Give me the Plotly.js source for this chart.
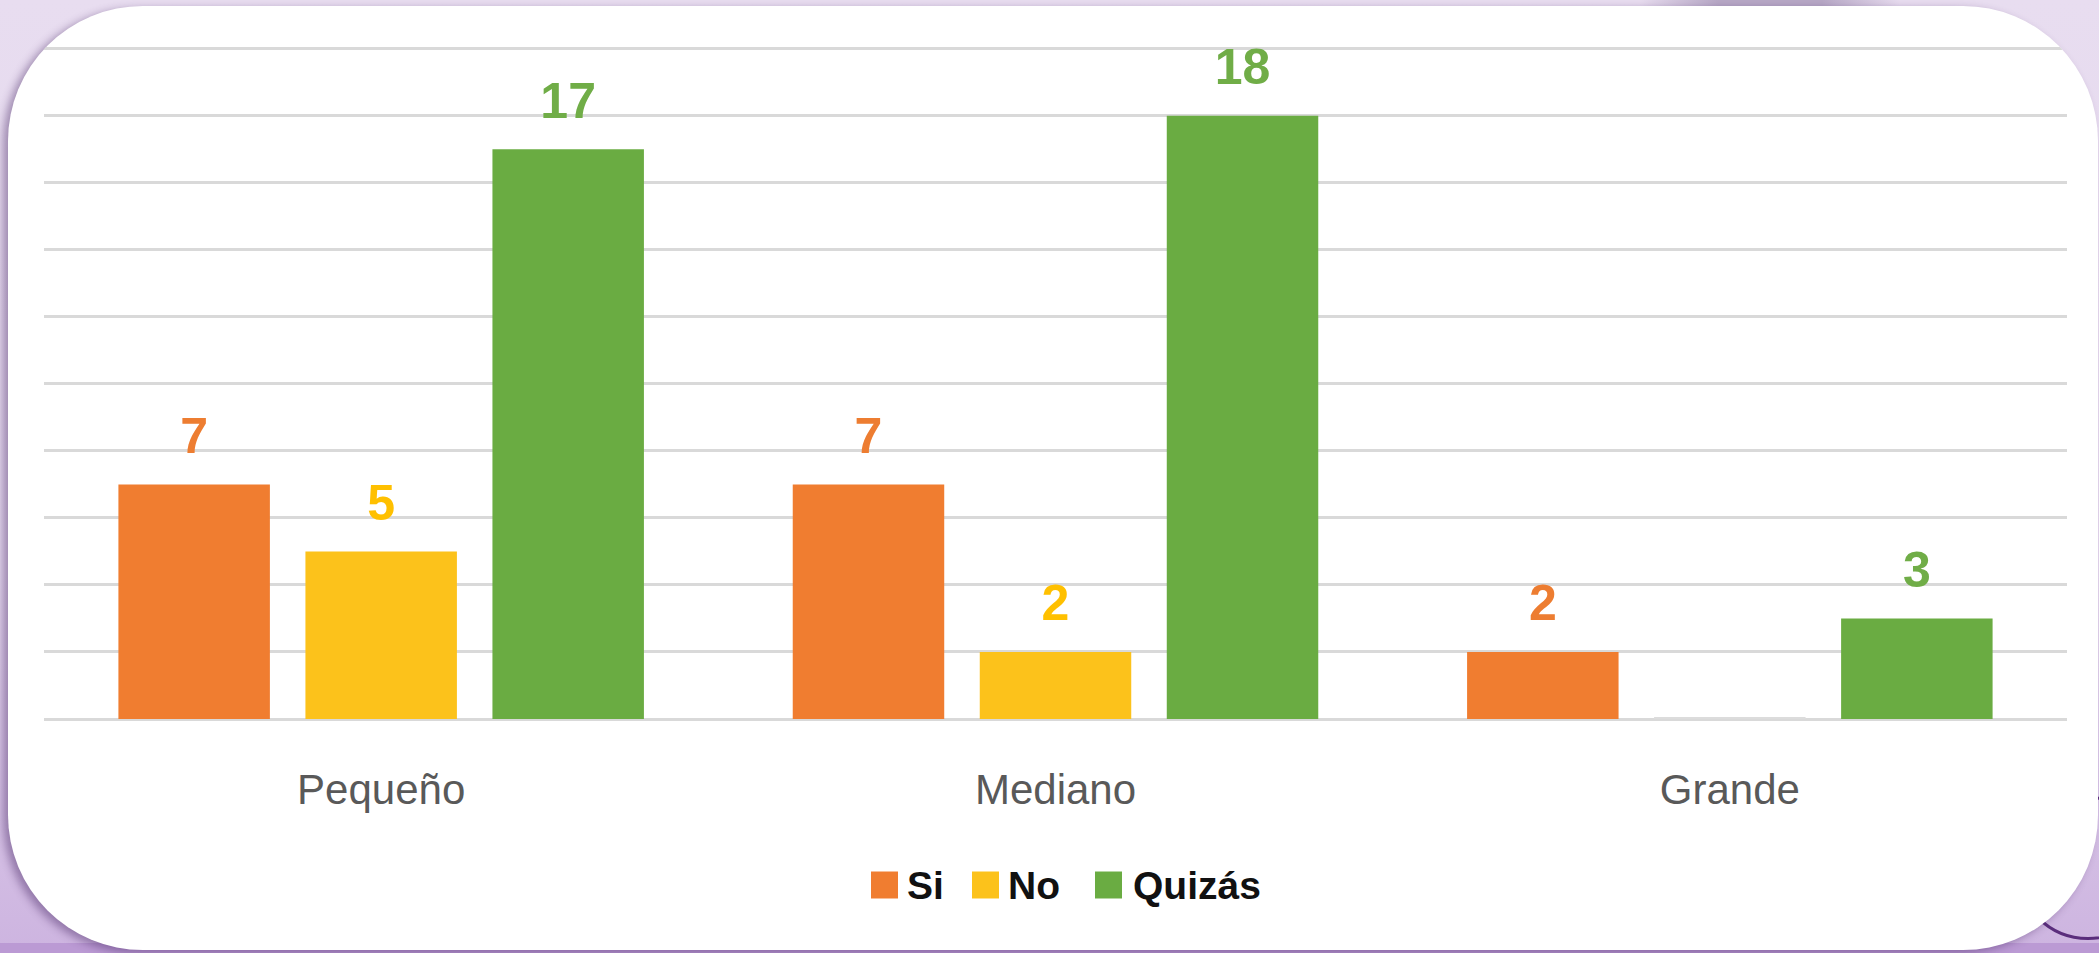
<!DOCTYPE html>
<html><head><meta charset="utf-8">
<script src="https://cdn.plot.ly/plotly-3.0.1.min.js"></script>
<style>
html,body{margin:0;padding:0;width:2099px;height:953px;overflow:hidden;}
body{background:linear-gradient(180deg,#e8ddf0 0%,#e3d6ed 60%,#cdb4e0 100%);position:relative;}
#band{position:absolute;left:0;top:943px;width:2099px;height:10px;background:#bb9ad4;}
#topshade{position:absolute;left:1640px;top:0;width:260px;height:10px;background:linear-gradient(90deg,rgba(170,150,190,0) 0%,#b7a8c6 30%,#b7a8c6 70%,rgba(170,150,190,0) 100%);}
#ring{position:absolute;left:2016px;top:796px;width:144px;height:144px;border:3px solid #5a2d7c;border-radius:50%;box-sizing:border-box;}
#card{position:absolute;left:8px;top:6px;width:2090px;height:944px;background:#fff;border-radius:135px;overflow:hidden;box-shadow:-5px 3px 8px rgba(70,40,100,0.45);}
#chart{position:absolute;left:-8px;top:-6px;width:2099px;height:953px;}
</style></head>
<body>
<div id="band"></div>
<div id="topshade"></div>
<div id="ring"></div>
<div id="card"><div id="chart"></div></div>
<script>
const categories = ['Pequeño', 'Mediano', 'Grande'];
const seriesNames = ['Si', 'No', 'Quizás'];
const siValues = [7, 7, 2];
const noValues = [5, 2, 0];
const quizasValues = [17, 18, 3];
const seriesValues = [siValues, noValues, quizasValues];
const yTickValues = [0, 2, 4, 6, 8, 10, 12, 14, 16, 18, 20];
const barColors = ['#f07d30', '#fcc21b', '#6aac42'];
const labelColors = ['#ED7D31', '#FFC000', '#70AD47'];

const FONT = '"Liberation Sans Narrow", "Arial Narrow", "Liberation Sans", Arial, sans-serif';
const GAP = 0.168;

const traces = [];
seriesNames.forEach((name, i) => {
  traces.push({
    type: 'bar', name: name, x: categories, y: seriesValues[i],
    marker: {color: barColors[i],
      line: {color: '#dcdcdc', width: seriesValues[i].map(v => v === 0 ? 4 : 0)}},
    hoverinfo: 'x+y+name'
  });
});
seriesNames.forEach((name, i) => {
  traces.push({
    type: 'scatter', mode: 'markers+text', name: name + ' label', showlegend: false,
    x: categories, y: seriesValues[i],
    text: seriesValues[i].map(v => v > 0 ? String(v) : ''),
    textposition: 'top center',
    textfont: {family: FONT, size: 50, color: labelColors[i], weight: 'bold'},
    marker: {size: 29, opacity: 0}, hoverinfo: 'skip', cliponaxis: false
  });
});

// custom legend (large square symbols)
const legendLayout = [
  {sq0: 871, text: 905},
  {sq0: 972, text: 1006},
  {sq0: 1095, text: 1131}
];
const plotL = 44, plotR = 2067, plotT = 42, plotB = 719;
const px = v => (v - plotL) / (plotR - plotL);
const py = v => (plotB - v) / (plotB - plotT);
const legendY = 885, sq = 27;
const shapes = [], annotations = [];
seriesNames.forEach((name, i) => {
  const L = legendLayout[i];
  shapes.push({type: 'rect', xref: 'paper', yref: 'paper',
    x0: px(L.sq0), x1: px(L.sq0 + sq), y0: py(legendY + sq / 2), y1: py(legendY - sq / 2),
    fillcolor: barColors[i], line: {width: 0}});
  annotations.push({xref: 'paper', yref: 'paper', x: px(L.text), y: py(legendY),
    xanchor: 'left', yanchor: 'middle', showarrow: false, text: name,
    font: {family: FONT, size: 39, color: '#111111', weight: 'bold'}});
});

const layout = {
  width: 2099, height: 953,
  paper_bgcolor: 'rgba(0,0,0,0)', plot_bgcolor: 'rgba(0,0,0,0)',
  margin: {l: plotL, r: 2099 - plotR, t: plotT, b: 953 - plotB, pad: 0},
  barmode: 'group', bargap: GAP, bargroupgap: 0.19,
  scattermode: 'group', scattergap: GAP,
  showlegend: false,
  xaxis: {type: 'category', showgrid: false, showline: false, zeroline: false, ticks: '',
    tickfont: {family: FONT, size: 42, color: '#595959'}, ticklabelstandoff: 42},
  yaxis: {range: [0, 20.2], tickvals: yTickValues, showticklabels: false, ticks: '',
    gridcolor: '#d9d9d9', gridwidth: 3, zeroline: true, zerolinecolor: '#d9d9d9', zerolinewidth: 3,
    showline: false},
  shapes: shapes, annotations: annotations
};
Plotly.newPlot('chart', traces, layout, {staticPlot: true});
</script>
</body></html>
